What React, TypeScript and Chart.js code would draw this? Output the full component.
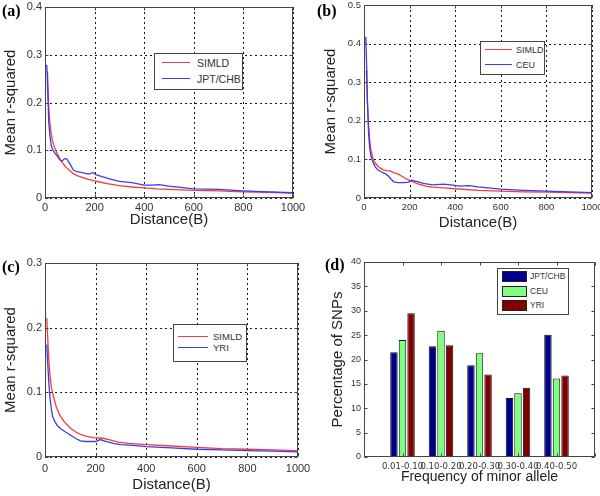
import React, { useEffect, useRef } from 'react';
import { Chart, registerables } from 'chart.js';

Chart.register(...registerables);

const W = 600;
const H = 496;
const SANS = '"Liberation Sans", Arial, Helvetica, sans-serif';
const NARROW = '"Liberation Sans Narrow", "Arial Narrow", "DejaVu Sans Condensed", "Liberation Sans", sans-serif';
const SERIF = '"Liberation Serif", "Times New Roman", serif';

// ---------- data ----------
// (a) SIMLD vs JPT/CHB
const distSimldA = [10, 15, 20, 25, 30, 40, 50, 60, 70, 80, 90, 100, 115, 130, 150, 175, 200, 225, 250, 300, 350, 400, 450, 500, 600, 700, 800, 900, 1000];
const valSimldA = [0.265, 0.19, 0.155, 0.135, 0.12, 0.104, 0.092, 0.082, 0.074, 0.067, 0.062, 0.057, 0.051, 0.047, 0.043, 0.039, 0.036, 0.033, 0.03, 0.026, 0.023, 0.021, 0.019, 0.018, 0.016, 0.015, 0.013, 0.012, 0.01];
const distJptA = [7, 10, 15, 20, 25, 30, 40, 50, 60, 68, 78, 88, 100, 115, 130, 150, 175, 195, 205, 230, 260, 300, 350, 400, 430, 460, 500, 600, 700, 800, 900, 1000];
const valJptA = [0.279, 0.24, 0.16, 0.13, 0.11, 0.102, 0.094, 0.087, 0.08, 0.077, 0.082, 0.082, 0.072, 0.058, 0.055, 0.053, 0.05, 0.053, 0.049, 0.045, 0.04, 0.035, 0.032, 0.027, 0.027, 0.028, 0.025, 0.019, 0.018, 0.015, 0.013, 0.011];

// (b) SIMLD vs CEU
const distSimldB = [10, 12, 15, 20, 25, 30, 40, 50, 60, 70, 85, 100, 115, 130, 150, 170, 190, 210, 240, 275, 300, 350, 400, 500, 600, 700, 800, 900, 1000];
const valSimldB = [0.33, 0.3, 0.25, 0.19, 0.15, 0.125, 0.1, 0.09, 0.083, 0.078, 0.073, 0.071, 0.07, 0.066, 0.062, 0.055, 0.048, 0.043, 0.036, 0.03, 0.028, 0.026, 0.024, 0.02, 0.018, 0.016, 0.015, 0.014, 0.013];
const distCeuB = [5, 8, 12, 15, 20, 25, 30, 35, 40, 50, 60, 75, 90, 105, 120, 130, 150, 175, 195, 210, 230, 260, 300, 350, 380, 420, 460, 500, 600, 700, 800, 900, 1000];
const valCeuB = [0.4, 0.418, 0.33, 0.25, 0.17, 0.13, 0.11, 0.1, 0.092, 0.08, 0.073, 0.068, 0.064, 0.058, 0.048, 0.042, 0.04, 0.04, 0.041, 0.046, 0.043, 0.038, 0.034, 0.036, 0.034, 0.031, 0.032, 0.029, 0.023, 0.02, 0.018, 0.016, 0.014];

// (c) SIMLD vs YRI
const distSimldC = [7, 10, 15, 20, 25, 33, 45, 58, 75, 100, 120, 140, 165, 190, 230, 260, 290, 330, 400, 500, 600, 700, 800, 900, 1000];
const valSimldC = [0.215, 0.19, 0.15, 0.125, 0.108, 0.094, 0.077, 0.065, 0.055, 0.045, 0.039, 0.035, 0.032, 0.03, 0.029, 0.026, 0.023, 0.021, 0.019, 0.017, 0.015, 0.013, 0.012, 0.011, 0.01];
const distYriC = [7, 10, 15, 20, 25, 30, 40, 50, 65, 80, 100, 120, 140, 160, 200, 218, 240, 270, 300, 350, 400, 500, 600, 700, 800, 900, 1000];
const valYriC = [0.174, 0.15, 0.115, 0.09, 0.075, 0.063, 0.054, 0.048, 0.043, 0.039, 0.034, 0.029, 0.025, 0.024, 0.024, 0.027, 0.024, 0.021, 0.019, 0.018, 0.016, 0.014, 0.012, 0.011, 0.01, 0.009, 0.008];

// (d) minor allele frequency distribution
const mafBins = ['0.01-0.10', '0.10-0.20', '0.20-0.30', '0.30-0.40', '0.40-0.50'];
const jptChbPct = [21.5, 22.7, 18.8, 12.1, 25.1];
const ceuPct = [24.0, 25.9, 21.3, 13.1, 16.1];
const yriPct = [29.5, 22.9, 16.9, 14.2, 16.7];

// ---------- styling ----------
const RED = 'rgb(245,60,60)';
const BLUE = 'rgb(60,60,235)';
const BAR_BLUE = '#00008F';
const BAR_GREEN = '#80FF80';
const BAR_RED = '#800000';

const framePlugin = {
  id: 'frame',
  beforeDatasetsDraw(chart: any, _args: any, opts: any) {
    if (!opts || !opts.grid) return;
    const { ctx, chartArea: ca, scales } = chart;
    ctx.save();
    ctx.strokeStyle = '#1a1a1a';
    ctx.lineWidth = 1;
    ctx.setLineDash([2, 3]);
    scales.x.ticks.forEach((t: any) => {
      const px = Math.round(scales.x.getPixelForValue(t.value)) + 0.5;
      ctx.beginPath();
      ctx.moveTo(px, ca.top);
      ctx.lineTo(px, ca.bottom);
      ctx.stroke();
    });
    scales.y.ticks.forEach((t: any) => {
      const py = Math.round(scales.y.getPixelForValue(t.value)) + 0.5;
      ctx.beginPath();
      ctx.moveTo(ca.left, py);
      ctx.lineTo(ca.right, py);
      ctx.stroke();
    });
    ctx.restore();
  },
  afterDatasetsDraw(chart: any) {
    const { ctx, chartArea: ca, scales } = chart;
    ctx.save();
    ctx.strokeStyle = '#444';
    ctx.lineWidth = 1;
    ctx.setLineDash([]);
    const L = Math.round(ca.left) + 0.5;
    const T = Math.round(ca.top) + 0.5;
    const R = Math.round(ca.right) - 0.5;
    const B = Math.round(ca.bottom) - 0.5;
    ctx.strokeRect(L, T, R - L, B - T);
    const tl = 3;
    ctx.beginPath();
    scales.x.ticks.forEach((t: any) => {
      const px = Math.round(scales.x.getPixelForValue(t.value)) + 0.5;
      ctx.moveTo(px, B);
      ctx.lineTo(px, B - tl);
      ctx.moveTo(px, T);
      ctx.lineTo(px, T + tl);
    });
    scales.y.ticks.forEach((t: any) => {
      const py = Math.round(scales.y.getPixelForValue(t.value)) + 0.5;
      ctx.moveTo(L, py);
      ctx.lineTo(L + tl, py);
      ctx.moveTo(R, py);
      ctx.lineTo(R - tl, py);
    });
    ctx.stroke();
    ctx.restore();
  },
};

type Plot = { l: number; t: number; r: number; b: number };
type AxisSpec = {
  plot: Plot;
  padL: number; // left padding (y title placement)
  xH: number; // x scale height
  tickSize: number;
  xTickPad: number;
  yTickPad: number;
  titleSize: number;
};

function scaleFit(axis: 'x' | 'y', size: number) {
  return (s: any) => {
    if (axis === 'x') s.height = size;
    else s.width = size;
    s.paddingLeft = 0;
    s.paddingRight = 0;
    s.paddingTop = 0;
    s.paddingBottom = 0;
  };
}

function layoutFor(a: AxisSpec) {
  return {
    padding: {
      left: a.padL,
      top: a.plot.t,
      right: W - a.plot.r,
      bottom: H - a.plot.b - a.xH,
    },
  };
}

type Series = { label: string; x: number[]; y: number[]; color: string };

function lineConfig(a: AxisSpec, yMax: number, series: Series[]): any {
  return {
    type: 'line',
    data: {
      datasets: series.map((s) => ({
        label: s.label,
        data: s.x.map((x, i) => ({ x, y: s.y[i] })),
        borderColor: s.color,
        backgroundColor: s.color,
        borderWidth: 1.3,
        pointRadius: 0,
        tension: 0,
        fill: false,
      })),
    },
    options: {
      responsive: false,
      animation: false,
      devicePixelRatio: 1,
      events: [],
      layout: layoutFor(a),
      plugins: { legend: { display: false }, tooltip: { enabled: false }, frame: { grid: true } },
      scales: {
        x: {
          type: 'linear',
          min: 0,
          max: 1000,
          grid: { display: false, drawTicks: false },
          border: { display: false },
          ticks: {
            stepSize: 200,
            autoSkip: false,
            maxRotation: 0,
            padding: a.xTickPad,
            color: '#333',
            font: { family: SANS, size: a.tickSize },
            callback: (v: any) => String(v),
          },
          title: {
            display: true,
            text: 'Distance(B)',
            color: '#222',
            padding: { top: 0, bottom: 0 },
            font: { family: SANS, size: a.titleSize },
          },
          afterFit: scaleFit('x', a.xH),
        },
        y: {
          type: 'linear',
          min: 0,
          max: yMax,
          grid: { display: false, drawTicks: false },
          border: { display: false },
          ticks: {
            stepSize: 0.1,
            padding: a.yTickPad,
            color: '#333',
            font: { family: SANS, size: a.tickSize },
            callback: (v: any) => (Math.abs(v) < 1e-9 ? '0' : Number(v).toFixed(1)),
          },
          title: {
            display: true,
            text: 'Mean r-squared',
            color: '#222',
            padding: { top: 0, bottom: 0 },
            font: { family: SANS, size: a.titleSize },
          },
          afterFit: scaleFit('y', a.plot.l - a.padL),
        },
      },
    },
    plugins: [framePlugin],
  };
}

function barConfig(a: AxisSpec): any {
  const mk = (label: string, vals: number[], color: string) => ({
    label,
    data: vals.map((y, i) => ({ x: i + 1, y })),
    backgroundColor: color,
    borderColor: '#111',
    borderWidth: 1,
    categoryPercentage: 0.667,
    barPercentage: 0.87,
  });
  return {
    type: 'bar',
    data: {
      datasets: [mk('JPT/CHB', jptChbPct, BAR_BLUE), mk('CEU', ceuPct, BAR_GREEN), mk('YRI', yriPct, BAR_RED)],
    },
    options: {
      responsive: false,
      animation: false,
      devicePixelRatio: 1,
      events: [],
      layout: layoutFor(a),
      plugins: { legend: { display: false }, tooltip: { enabled: false }, frame: { grid: false } },
      scales: {
        x: {
          type: 'linear',
          min: 0,
          max: mafBins.length + 1,
          offset: false,
          grid: { display: false, drawTicks: false, offset: false },
          border: { display: false },
          ticks: {
            stepSize: 1,
            autoSkip: false,
            maxRotation: 0,
            padding: a.xTickPad,
            color: '#333',
            font: { family: NARROW, size: 9.5 },
            callback: (v: any) => mafBins[Math.round(v) - 1] ?? '',
          },
          title: {
            display: true,
            text: 'Frequency of minor allele',
            color: '#222',
            padding: { top: 0, bottom: 0 },
            font: { family: SANS, size: 14 },
          },
          afterFit: scaleFit('x', a.xH),
        },
        y: {
          type: 'linear',
          min: 0,
          max: 40,
          grid: { display: false, drawTicks: false },
          border: { display: false },
          ticks: {
            stepSize: 5,
            padding: a.yTickPad,
            color: '#333',
            font: { family: SANS, size: a.tickSize },
            callback: (v: any) => String(v),
          },
          title: {
            display: true,
            text: 'Percentage of SNPs',
            color: '#222',
            padding: { top: 0, bottom: 0 },
            font: { family: SANS, size: a.titleSize },
          },
          afterFit: scaleFit('y', a.plot.l - a.padL),
        },
      },
    },
    plugins: [framePlugin],
  };
}

const axesA: AxisSpec = { plot: { l: 45, t: 7, r: 293, b: 198 }, padL: 2, xH: 31, tickSize: 11, xTickPad: 3, yTickPad: 3, titleSize: 15 };
const axesB: AxisSpec = { plot: { l: 364, t: 5, r: 592, b: 198 }, padL: 322, xH: 34, tickSize: 9.5, xTickPad: 4, yTickPad: 3, titleSize: 15 };
const axesC: AxisSpec = { plot: { l: 45, t: 263, r: 298, b: 457 }, padL: 2, xH: 37, tickSize: 11, xTickPad: 5, yTickPad: 3, titleSize: 15 };
const axesD: AxisSpec = { plot: { l: 364, t: 262, r: 595, b: 457 }, padL: 329, xH: 29, tickSize: 9, xTickPad: 4, yTickPad: 3, titleSize: 15 };

function ChartLayer({ make }: { make: () => any }) {
  const ref = useRef<HTMLCanvasElement | null>(null);
  useEffect(() => {
    if (!ref.current) return;
    const chart = new Chart(ref.current, make());
    return () => chart.destroy();
  }, []);
  return (
    <canvas
      ref={ref}
      width={W}
      height={H}
      style={{ position: 'absolute', left: 0, top: 0, width: W, height: H }}
    />
  );
}

type LegendRow = { label: string; y: number; color: string };

function LineLegend(props: {
  left: number; top: number; width: number; height: number;
  lineX1: number; lineX2: number; textX: number; font: number; rows: LegendRow[];
}) {
  const { left, top, width, height, lineX1, lineX2, textX, font, rows } = props;
  return (
    <div
      style={{
        position: 'absolute', left, top, width, height, boxSizing: 'border-box',
        border: '1px solid #444', background: '#fff',
      }}
    >
      {rows.map((r) => (
        <React.Fragment key={r.label}>
          <div style={{ position: 'absolute', left: lineX1, top: r.y - 1, width: lineX2 - lineX1, height: 1.3, background: r.color }} />
          <div
            style={{
              position: 'absolute', left: textX, top: r.y - 7, height: 14, lineHeight: '14px',
              fontFamily: SANS, fontSize: font, color: '#333', whiteSpace: 'nowrap',
            }}
          >
            {r.label}
          </div>
        </React.Fragment>
      ))}
    </div>
  );
}

function BarLegend() {
  const rows = [
    { label: 'JPT/CHB', color: BAR_BLUE, top: 2 },
    { label: 'CEU', color: BAR_GREEN, top: 17 },
    { label: 'YRI', color: BAR_RED, top: 31 },
  ];
  return (
    <div
      style={{
        position: 'absolute', left: 497, top: 268, width: 72, height: 47, boxSizing: 'border-box',
        border: '1px solid #444', background: '#fff',
      }}
    >
      {rows.map((r) => (
        <React.Fragment key={r.label}>
          <div
            style={{
              position: 'absolute', left: 4, top: r.top, width: 25, height: 11, boxSizing: 'border-box',
              background: r.color, border: '1px solid #222',
            }}
          />
          <div
            style={{
              position: 'absolute', left: 32, top: r.top - 1, height: 13, lineHeight: '13px',
              fontFamily: SANS, fontSize: 8.5, color: '#333', whiteSpace: 'nowrap',
            }}
          >
            {r.label}
          </div>
        </React.Fragment>
      ))}
    </div>
  );
}

function PanelLabel({ text, left, top }: { text: string; left: number; top: number }) {
  return (
    <div
      style={{
        position: 'absolute', left, top, fontFamily: SERIF, fontWeight: 'bold', fontSize: 16,
        lineHeight: '16px', color: '#000',
      }}
    >
      {text}
    </div>
  );
}

export default function App() {
  return (
    <div style={{ position: 'absolute', left: 0, top: 0, width: W, height: H, background: '#fff', overflow: 'hidden' }}>
      <ChartLayer
        make={() =>
          lineConfig(axesA, 0.4, [
            { label: 'JPT/CHB', x: distJptA, y: valJptA, color: BLUE },
            { label: 'SIMLD', x: distSimldA, y: valSimldA, color: RED },
          ])
        }
      />
      <ChartLayer
        make={() =>
          lineConfig(axesB, 0.5, [
            { label: 'CEU', x: distCeuB, y: valCeuB, color: BLUE },
            { label: 'SIMLD', x: distSimldB, y: valSimldB, color: RED },
          ])
        }
      />
      <ChartLayer
        make={() =>
          lineConfig(axesC, 0.3, [
            { label: 'YRI', x: distYriC, y: valYriC, color: BLUE },
            { label: 'SIMLD', x: distSimldC, y: valSimldC, color: RED },
          ])
        }
      />
      <ChartLayer make={() => barConfig(axesD)} />

      <LineLegend
        left={154} top={53} width={89} height={37} lineX1={7} lineX2={35} textX={42} font={10.5}
        rows={[{ label: 'SIMLD', y: 9, color: RED }, { label: 'JPT/CHB', y: 25, color: BLUE }]}
      />
      <LineLegend
        left={480} top={41} width={65} height={34} lineX1={4} lineX2={31} textX={35} font={9}
        rows={[{ label: 'SIMLD', y: 8, color: RED }, { label: 'CEU', y: 23, color: BLUE }]}
      />
      <LineLegend
        left={173} top={324} width={74} height={38} lineX1={4} lineX2={34} textX={39} font={9.5}
        rows={[{ label: 'SIMLD', y: 12, color: RED }, { label: 'YRI', y: 23, color: BLUE }]}
      />
      <BarLegend />

      <PanelLabel text="(a)" left={2} top={3} />
      <PanelLabel text="(b)" left={317} top={3} />
      <PanelLabel text="(c)" left={2} top={259} />
      <PanelLabel text="(d)" left={325} top={257} />
    </div>
  );
}
